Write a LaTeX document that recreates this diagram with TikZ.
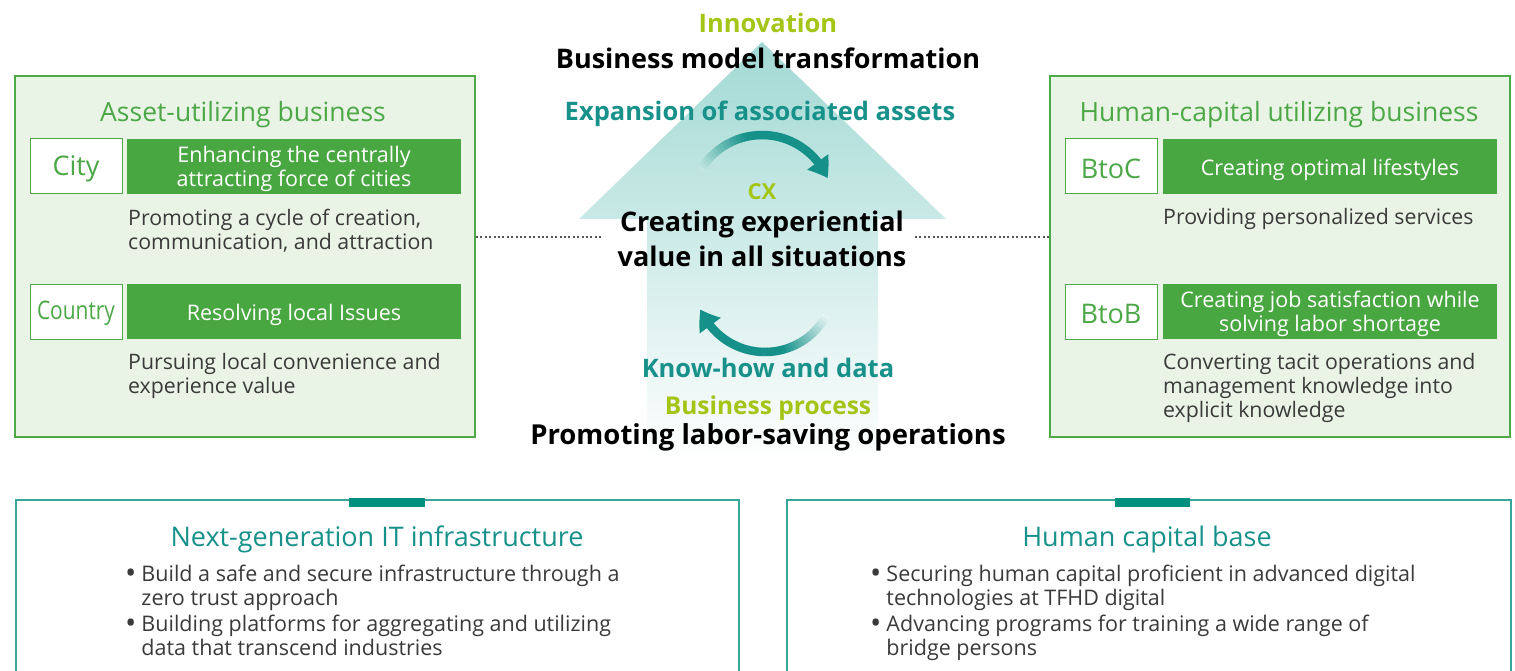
\documentclass[tikz,border=0pt]{standalone}
\usepackage{fontspec}
\setmainfont{Open Sans}
\newfontfamily\narrowfont{Open Sans}[FakeStretch=0.82]
\usetikzlibrary{arrows.meta,bending,calc}

\definecolor{panelline}{HTML}{4DAA47}
\definecolor{panelfill}{HTML}{EAF4E6}
\definecolor{bargreen}{HTML}{48A740}
\definecolor{titlegreen}{HTML}{4CA846}
\definecolor{limegreen}{HTML}{A3C516}
\definecolor{tealtext}{HTML}{17918A}
\definecolor{tealarc}{HTML}{15918A}
\definecolor{frameteal}{HTML}{3AA59A}
\definecolor{tabteal}{HTML}{00907F}
\definecolor{bodygray}{HTML}{3A3A3A}
\definecolor{dotgray}{HTML}{555555}
\definecolor{arrowtop}{HTML}{A2D9D4}
\definecolor{bgtop}{HTML}{C2E6E2}
\definecolor{bgbottom}{HTML}{E6F4F3}

% large list bullet
\newcommand\listdot{\raisebox{-2.2pt}{\fontsize{30}{24}\selectfont•}}

\begin{document}
\begin{tikzpicture}[x=1pt,y=-1pt,
  panel/.style={draw=panelline, line width=2pt, fill=panelfill, inner sep=0pt,
    minimum width=460pt, minimum height=361pt},
  paneltitle/.style={inner sep=0pt, text=titlegreen, font=\fontsize{26.5}{30}\selectfont},
  tagbox/.style={draw=panelline, line width=1pt, fill=white, inner sep=0pt,
    minimum width=92pt, minimum height=55pt},
  tagtext/.style={inner sep=0pt, text=titlegreen, font=\fontsize{27}{30}\selectfont},
  bar/.style={fill=bargreen, inner sep=0pt, minimum width=334pt, minimum height=55pt},
  bartext/.style={inner sep=0pt, text=white, align=center, font=\fontsize{21.5}{24}\selectfont},
  desc/.style={anchor=base west, inner sep=0pt, align=left, text=bodygray,
    font=\fontsize{21.3}{24}\selectfont},
  head/.style={inner sep=0pt, font=\bfseries\fontsize{25.5}{30}\selectfont},
  bighead/.style={inner sep=0pt, align=center, font=\bfseries\fontsize{27}{35}\selectfont},
  dotline/.style={draw=dotgray, line width=2pt, dash pattern=on 2pt off 2.4pt},
  frame/.style={draw=frameteal, line width=1.5pt, inner sep=0pt, minimum height=240pt},
  basetitle/.style={inner sep=0pt, text=tealtext, font=\fontsize{27}{30}\selectfont},
  bullets/.style={anchor=base west, inner sep=0pt, text=bodygray, font=\fontsize{21.5}{24}\selectfont},
]
\useasboundingbox (0,0) rectangle (1515,671);

% ---- central arrow ----
\shade[top color=arrowtop, bottom color=white]
  (647,462) -- (647,219) -- (579,219) -- (762,42) -- (946,219) -- (878,219) -- (878,462) -- cycle;

% ---- upper circular arrow (fading tail) ----
\foreach \a in {210,213,...,309}{
  \pgfmathtruncatemacro\p{min(100,(\a-210)*2.2)}
  \draw[line width=8.5pt, color=tealarc!\p!bgtop]
    ($(762,206)+(\a:71)$) arc[start angle=\a, end angle=\a+3.4, radius=71];
}
\draw[line width=8.5pt, color=tealarc, -{Triangle[length=19pt,width=25pt,bend]}]
  ($(762,206)+(312:71)$) arc[start angle=312, end angle=337, radius=71];

% ---- lower circular arrow (fading tail) ----
\foreach \a in {28,31,...,127}{
  \pgfmathtruncatemacro\p{min(100,(\a-28)*2.2)}
  \draw[line width=8.5pt, color=tealarc!\p!bgbottom]
    ($(765,282)+(\a:70)$) arc[start angle=\a, end angle=\a+3.4, radius=70];
}
\draw[line width=8.5pt, color=tealarc, -{Triangle[length=19pt,width=25pt,bend]}]
  ($(765,282)+(130:70)$) arc[start angle=130, end angle=157, radius=70];

% ---- central texts ----
\node[head, text=limegreen] (innov) at (768,23) {Innovation};
\node[bighead] (bmt) at (768,58) {Business model transformation};
\node[head, text=tealtext] (expan) at (760,114) {Expansion of associated assets};
\node[head, text=limegreen, font=\bfseries\fontsize{22}{26}\selectfont] (cx) at (762,192) {CX};
\node[bighead] (cexp) at (762,239) {Creating experiential\\value in all situations};
\node[head, text=tealtext] (know) at (768,368) {Know-how and data};
\node[head, text=limegreen, font=\bfseries\fontsize{24.5}{30}\selectfont] (bproc) at (768,408) {Business process};
\node[bighead, font=\bfseries\fontsize{27.5}{35}\selectfont] (labor) at (768,437) {Promoting labor-saving operations};

% ---- left panel ----
\node[panel] (lbox) at (245,256.5) {};
\node[paneltitle] (ltitle) at (243,115) {Asset-utilizing business};
\node[tagbox] (city) at (76,166.5) {};
\node[tagtext] (citytxt) at (76,168.5) {City};
\node[bar] (citybar) at (294,166.5) {};
\node[bartext] (citybartxt) at (294,168.5) {Enhancing the centrally\\attracting force of cities};
\node[desc] (citydesc) at (128,249) {Promoting a cycle of creation,\\communication, and attraction};
\node[tagbox] (country) at (76,311.5) {};
\node[tagtext, font=\narrowfont\fontsize{25.5}{28}\selectfont] (countrytxt) at (76,313.5) {Country};
\node[bar] (countrybar) at (294,311.5) {};
\node[bartext] (countrybartxt) at (294,314.5) {Resolving local Issues};
\node[desc] (countrydesc) at (128,393) {Pursuing local convenience and\\experience value};

% ---- right panel ----
\node[panel] (rbox) at (1280,256.5) {};
\node[paneltitle] (rtitle) at (1279,115) {Human-capital utilizing business};
\node[tagbox] (btoc) at (1111,166.5) {};
\node[tagtext] (btoctxt) at (1111,168.5) {BtoC};
\node[bar] (btocbar) at (1330,166.5) {};
\node[bartext] (btocbartxt) at (1330,169.5) {Creating optimal lifestyles};
\node[desc] (btocdesc) at (1163,225) {Providing personalized services};
\node[tagbox] (btob) at (1111,311.5) {};
\node[tagtext] (btobtxt) at (1111,313.5) {BtoB};
\node[bar] (btobbar) at (1330,311.5) {};
\node[bartext] (btobbartxt) at (1330,313.5) {Creating job satisfaction while\\solving labor shortage};
\node[desc] (btobdesc) at (1163,417) {Converting tacit operations and\\management knowledge into\\explicit knowledge};

% ---- dotted links between panels and centre ----
\coordinate (dl) at (603,237);
\coordinate (dr) at (915,237);
\draw[dotline] (lbox.east |- dl) -- (dl);
\draw[dotline] (dr) -- (rbox.west |- dr);

% ---- bottom bases ----
\node[frame, minimum width=723pt, anchor=north west] (itbase) at (15,499) {};
\fill[tabteal] (349,498) rectangle (425,506.5);
\node[basetitle] (ittitle) at (377,539) {Next-generation IT infrastructure};
\node[bullets] (itlist) at (125,581) {%
  \begin{tabular}[t]{@{}l@{\hspace{5pt}}l@{}}
  \listdot & Build a safe and secure infrastructure through a\\
    & zero trust approach\\[2pt]
  \listdot & Building platforms for aggregating and utilizing\\
    & data that transcend industries
  \end{tabular}};

\node[frame, minimum width=724pt, anchor=north west] (hcbase) at (786,499) {};
\fill[tabteal] (1115,498) rectangle (1190,506.5);
\node[basetitle] (hctitle) at (1147,539) {Human capital base};
\node[bullets] (hclist) at (870,581) {%
  \begin{tabular}[t]{@{}l@{\hspace{5pt}}l@{}}
  \listdot & Securing human capital proficient in advanced digital\\
    & technologies at TFHD digital\\[2pt]
  \listdot & Advancing programs for training a wide range of\\
    & bridge persons
  \end{tabular}};
\end{tikzpicture}
\end{document}
